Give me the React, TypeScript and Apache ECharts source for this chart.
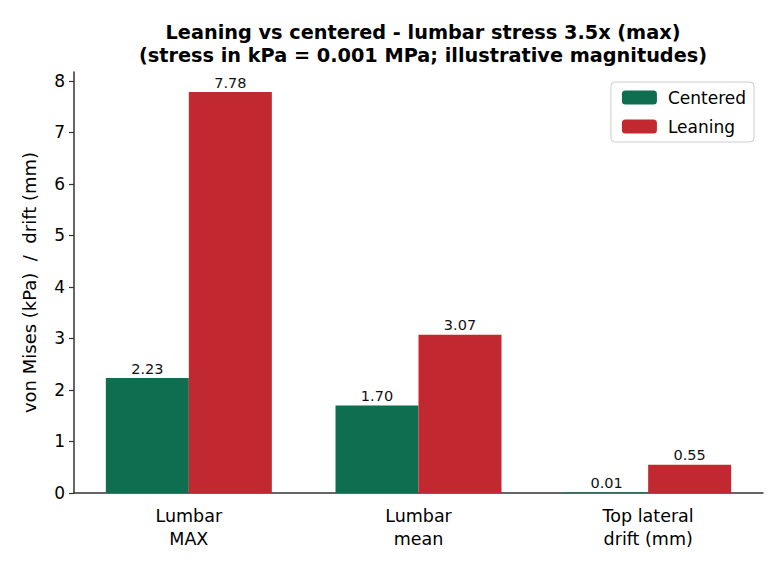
import React, { useEffect, useRef } from "react";
import * as echarts from "echarts";

const categories = ["Lumbar\nMAX", "Lumbar\nmean", "Top lateral\ndrift (mm)"];
const centered = [2.23, 1.7, 0.01];
const leaning = [7.78, 3.07, 0.55];
const yTicks = [0, 1, 2, 3, 4, 5, 6, 7, 8];

export default function App() {
  const ref = useRef<HTMLDivElement>(null);
  useEffect(() => {
    if (!ref.current) return;
    const chart = echarts.init(ref.current, null, { renderer: "svg" });
    const label = {
      show: true,
      position: "top",
      distance: 2,
      fontFamily: "DejaVu Sans",
      fontSize: 14.5,
      color: "#111",
      formatter: (p: any) => p.value.toFixed(2),
    };
    chart.setOption({
      animation: false,
      backgroundColor: "#fff",
      title: {
        text: "Leaning vs centered - lumbar stress 3.5x (max)\n(stress in kPa = 0.001 MPa; illustrative magnitudes)",
        left: 418,
        textAlign: "center",
        top: 16,
        textStyle: {
          fontFamily: "DejaVu Sans",
          fontWeight: "bold",
          fontSize: 19.3,
          lineHeight: 23,
          color: "#000",
        },
      },
      legend: {
        right: 30,
        top: 82,
        orient: "vertical",
        itemWidth: 35,
        itemHeight: 14,
        itemGap: 12,
        borderColor: "#ccc",
        borderWidth: 1,
        borderRadius: 4,
        padding: [7, 8, 7, 11],
        textStyle: { fontFamily: "DejaVu Sans", fontSize: 17, color: "#000", padding: [0, 0, 0, 6] },
        data: ["Centered", "Leaning"],
      },
      grid: { left: 74, right: 21, top: 72, bottom: 81 },
      xAxis: {
        type: "category",
        data: categories,
        boundaryGap: true,
        axisLine: { lineStyle: { color: "#333", width: 1.5 } },
        axisTick: { alignWithLabel: true, length: 5, lineStyle: { color: "#333", width: 1.2 } },
        axisLabel: {
          fontFamily: "DejaVu Sans",
          fontSize: 17.5,
          lineHeight: 23,
          color: "#000",
          margin: 11,
        },
      },
      yAxis: {
        type: "value",
        min: 0,
        max: 8.17,
        interval: 1,
        name: "von Mises (kPa)  /  drift (mm)",
        nameLocation: "middle",
        nameGap: 36,
        nameTextStyle: { fontFamily: "DejaVu Sans", fontSize: 18, color: "#000" },
        axisLine: { show: true, lineStyle: { color: "#333", width: 1.5 } },
        axisTick: { show: true, length: 5, lineStyle: { color: "#333", width: 1.2 } },
        splitLine: { show: false },
        axisLabel: {
          fontFamily: "DejaVu Sans",
          fontSize: 17,
          color: "#000",
          margin: 9,
          showMaxLabel: false,
          formatter: (v: number) => (yTicks.includes(v) ? String(v) : ""),
        },
      },
      series: [
        {
          name: "Centered",
          type: "bar",
          data: centered,
          barWidth: 83,
          barGap: "0%",
          itemStyle: { color: "#0e6e4f" },
          label,
        },
        {
          name: "Leaning",
          type: "bar",
          data: leaning,
          barWidth: 83,
          barGap: "0%",
          itemStyle: { color: "#c22830" },
          label,
        },
      ],
    });
    return () => chart.dispose();
  }, []);
  return <div ref={ref} style={{ width: 784, height: 574, margin: -8 }} />;
}
